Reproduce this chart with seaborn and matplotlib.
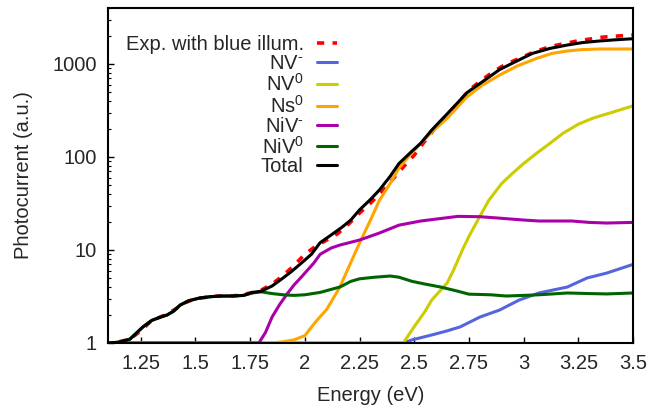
import numpy as np
import pandas as pd
import matplotlib
matplotlib.use("Agg")
import matplotlib.pyplot as plt
import seaborn as sns

# experimental photocurrent (blue illumination)
energy_exp = [1.15, 1.20, 1.25, 1.30, 1.35, 1.40, 1.45, 1.50, 1.55, 1.60, 1.65, 1.70,
              1.75, 1.80, 1.85, 1.90, 1.95, 2.00, 2.05, 2.10, 2.15, 2.20, 2.25, 2.30,
              2.35, 2.40, 2.45, 2.50, 2.55, 2.60, 2.65, 2.70, 2.75, 2.80, 2.85, 2.90,
              2.95, 3.00, 3.05, 3.10, 3.15, 3.20, 3.25, 3.30, 3.35, 3.40, 3.45, 3.50]
exp_blue = [1.03, 1.1, 1.35, 1.75, 1.95, 2.25, 2.7, 3.0, 3.1, 3.2, 3.2, 3.25,
            3.45, 3.7, 4.3, 5.3, 6.8, 9.0, 11.0, 12.8, 15.0, 19, 25, 32,
            42, 57, 78, 105, 150, 210, 285, 380, 520, 650, 790, 940,
            1070, 1200, 1360, 1480, 1590, 1680, 1780, 1850, 1930, 1980, 2010, 2050]

# NV-
energy_nvm = [1.10, 2.45, 2.49, 2.58, 2.65, 2.71, 2.80, 2.89, 2.98, 3.07, 3.20, 3.29, 3.38, 3.50]
nv_minus = [1.0, 1.0, 1.08, 1.22, 1.35, 1.49, 1.9, 2.26, 2.9, 3.45, 4.0, 5.0, 5.65, 7.0]

# NV0
energy_nv0 = [1.10, 2.45, 2.50, 2.55, 2.58, 2.65, 2.68, 2.72, 2.75, 2.80, 2.84, 2.90,
              2.95, 3.00, 3.06, 3.12, 3.18, 3.25, 3.32, 3.41, 3.50]
nv_zero = [1.0, 1.0, 1.5, 2.2, 2.9, 4.4, 6.1, 10, 14, 23, 34, 52,
           67, 85, 110, 140, 180, 225, 263, 305, 355]

# Ns0
energy_ns0 = [1.10, 1.85, 1.90, 1.95, 2.00, 2.05, 2.10, 2.16, 2.20, 2.25, 2.30, 2.34,
              2.39, 2.43, 2.48, 2.53, 2.58, 2.65, 2.74, 2.81, 2.89, 2.97, 3.06, 3.13,
              3.20, 3.27, 3.35, 3.42, 3.50]
ns_zero = [1.0, 1.0, 1.03, 1.08, 1.2, 1.7, 2.3, 4.0, 6.5, 11.9, 21, 34,
           52, 76, 105, 140, 185, 260, 440, 590, 760, 950, 1150, 1300,
           1380, 1430, 1450, 1450, 1450]

# NiV-
energy_nivm = [1.10, 1.79, 1.82, 1.85, 1.885, 1.92, 1.95, 1.98, 2.04, 2.07, 2.12, 2.16,
               2.25, 2.34, 2.43, 2.53, 2.60, 2.70, 2.80, 2.89, 3.00, 3.07, 3.22, 3.30,
               3.38, 3.50]
niv_minus = [1.0, 1.0, 1.3, 1.9, 2.6, 3.4, 4.2, 5.0, 7.2, 9.0, 10.5, 11.3,
             12.8, 15.2, 18.5, 20.5, 21.5, 23, 22.8, 22, 21, 20.5, 20.5, 19.8,
             19.5, 19.8]

# NiV0
energy_niv0 = [1.10, 1.15, 1.20, 1.23, 1.26, 1.30, 1.34, 1.37, 1.40, 1.43, 1.47, 1.52,
               1.57, 1.62, 1.67, 1.72, 1.76, 1.80, 1.85, 1.90, 1.95, 2.00, 2.07, 2.16,
               2.21, 2.25, 2.32, 2.39, 2.43, 2.49, 2.55, 2.62, 2.70, 2.75, 2.85, 2.92,
               3.00, 3.07, 3.20, 3.30, 3.38, 3.50]
niv_zero = [1.0, 1.02, 1.1, 1.28, 1.49, 1.75, 1.9, 2.0, 2.2, 2.56, 2.85, 3.05,
            3.15, 3.2, 3.2, 3.25, 3.45, 3.55, 3.4, 3.3, 3.25, 3.3, 3.5, 4.0,
            4.6, 4.9, 5.1, 5.25, 5.1, 4.6, 4.3, 4.0, 3.6, 3.35, 3.3, 3.2,
            3.25, 3.3, 3.45, 3.4, 3.37, 3.45]

# Total
energy_tot = [1.10, 1.15, 1.20, 1.23, 1.26, 1.30, 1.34, 1.37, 1.40, 1.43, 1.47, 1.52,
              1.57, 1.62, 1.67, 1.72, 1.76, 1.80, 1.85, 1.89, 1.94, 1.98, 2.03, 2.07,
              2.12, 2.17, 2.21, 2.25, 2.30, 2.34, 2.39, 2.43, 2.48, 2.53, 2.58, 2.65,
              2.71, 2.74, 2.81, 2.89, 2.97, 3.04, 3.12, 3.20, 3.27, 3.35, 3.42, 3.50]
total = [1.0, 1.02, 1.1, 1.28, 1.49, 1.75, 1.9, 2.0, 2.2, 2.56, 2.85, 3.05,
         3.15, 3.2, 3.2, 3.25, 3.5, 3.6, 4.1, 4.8, 5.9, 7.1, 9.0, 12.0,
         14.5, 17.6, 21, 27, 35, 44, 62, 85, 110, 141, 195, 290,
         410, 490, 640, 870, 1080, 1300, 1470, 1600, 1700, 1770, 1820, 1870]

x_ticks = [1.25, 1.5, 1.75, 2.0, 2.25, 2.5, 2.75, 3.0, 3.25, 3.5]
x_tick_labels = ["1.25", "1.5", "1.75", "2", "2.25", "2.5", "2.75", "3", "3.25", "3.5"]
y_ticks = [1, 10, 100, 1000]
y_tick_labels = ["1", "10", "100", "1000"]

series = [
    ("Exp. with blue illum.", energy_exp, exp_blue, "#ff0000"),
    (r"$\mathregular{NV^{\text{-}}}$", energy_nvm, nv_minus, "#5566dd"),
    (r"$\mathregular{NV^{0}}$", energy_nv0, nv_zero, "#cccc00"),
    (r"$\mathregular{Ns^{0}}$", energy_ns0, ns_zero, "#ffa500"),
    (r"$\mathregular{NiV^{\text{-}}}$", energy_nivm, niv_minus, "#aa00aa"),
    (r"$\mathregular{NiV^{0}}$", energy_niv0, niv_zero, "#006400"),
    ("Total", energy_tot, total, "#000000"),
]

sns.set_style("white")
plt.rcParams['font.family'] = ['Liberation Sans', 'DejaVu Sans']
plt.rcParams['mathtext.fontset'] = 'custom'
plt.rcParams['mathtext.rm'] = 'Liberation Sans'
plt.rcParams['font.size'] = 14.5

fig = plt.figure(figsize=(6.53, 4.09), dpi=100)
ax = fig.add_axes([108 / 653, 66 / 409, 525 / 653, 335 / 409])

for name, xs, ys, color in series:
    df = pd.DataFrame({"Energy": xs, "Photocurrent": ys})
    if name.startswith("Exp"):
        sns.lineplot(data=df, x="Energy", y="Photocurrent", color=color, lw=2.6,
                     linestyle=(0, (2.0, 2.3)), label=name, ax=ax, sort=False)
    else:
        sns.lineplot(data=df, x="Energy", y="Photocurrent", color=color, lw=2.2,
                     label=name, ax=ax, sort=False)

ax.set_yscale("log")
ax.set_xlim(1.1, 3.5)
ax.set_ylim(1, 4000)
ax.set_xticks(x_ticks, labels=x_tick_labels)
ax.set_yticks(y_ticks, labels=y_tick_labels)
ax.set_xlabel("Energy (eV)", labelpad=9)
ax.set_ylabel("Photocurrent (a.u.)", labelpad=14)

for s in ax.spines.values():
    s.set_visible(True)
    s.set_color("black")
    s.set_linewidth(1.5)

ax.tick_params(axis="both", which="both", direction="in", color="black",
               top=False, right=False, left=True, bottom=True)
ax.tick_params(axis="both", which="major", length=4.5, width=1.0, pad=8)
ax.tick_params(axis="y", which="minor", length=2.5, width=0.8)
ax.tick_params(axis="x", which="minor", bottom=False)

leg = ax.legend(loc="upper right", bbox_to_anchor=(0.436, 0.92), frameon=False,
                markerfirst=False, handlelength=1.0, handletextpad=0.65,
                labelspacing=0.0, borderpad=0, borderaxespad=0, fontsize=14.5)

fig.savefig("out.png", dpi=100)
